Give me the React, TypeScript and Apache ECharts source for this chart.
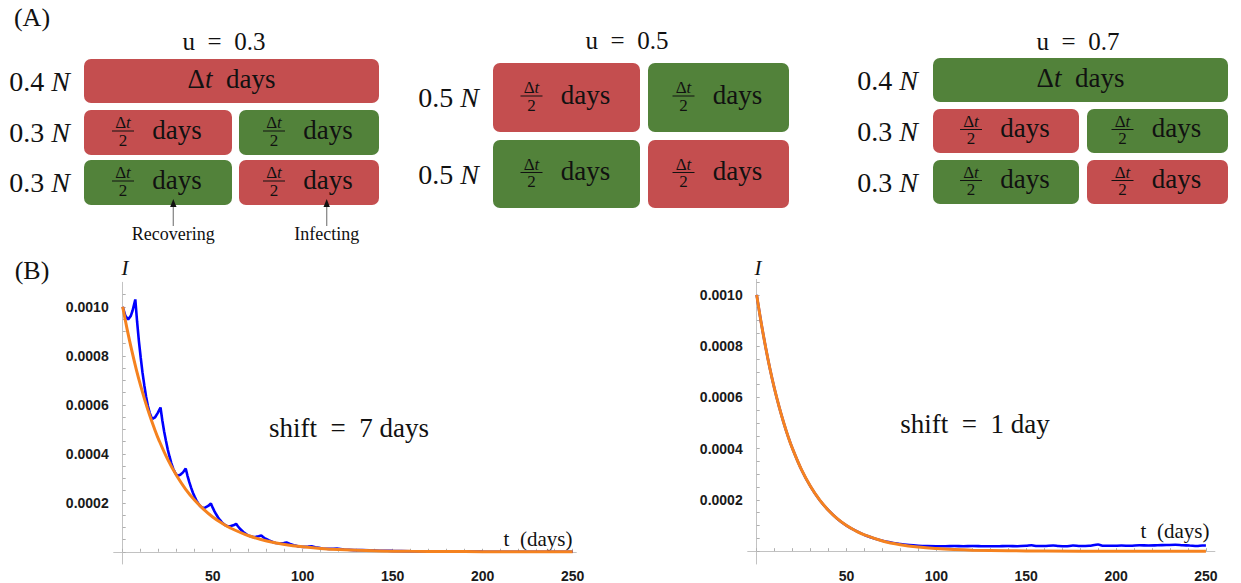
import React, { useEffect, useRef } from 'react';
import * as echarts from 'echarts';

// ---------- Panel A content ----------
const panelTitles = ['u = 0.3', 'u = 0.5', 'u = 0.7'];
const rowShares = [['0.4', '0.3', '0.3'], ['0.5', '0.5'], ['0.4', '0.3', '0.3']];
// I = infecting (red), R = recovering (green)
const cellStates = [
  [['I'], ['I', 'R'], ['R', 'I']],
  [['I', 'R'], ['R', 'I']],
  [['R'], ['I', 'R'], ['R', 'I']],
];
const arrowNotes = ['Recovering', 'Infecting'];

// ---------- Panel B content ----------
const shiftLabels = ['shift = 7 days', 'shift = 1 day'];
const xTickLabels = [50, 100, 150, 200, 250];
const yTickLabels = [0.0002, 0.0004, 0.0006, 0.0008, 0.001];

// shift = 7 days : simulated (blue)
const blueShift7: number[][] = [
  [0, 0.001], [1.5, 0.000963], [3, 0.000948], [4.5, 0.000963], [5.5, 0.000985], [7, 0.00103],
  [8, 0.000939], [9, 0.00086], [10, 0.000793], [11, 0.000731], [12, 0.00068], [13, 0.000633], [14, 0.000595],
  [15, 0.000567], [16, 0.000548], [16.5, 0.000543], [18, 0.000549], [19.5, 0.000567], [21, 0.000589],
  [22, 0.000537], [23, 0.000492], [24, 0.000454], [25, 0.000418], [26, 0.000389], [27, 0.000362], [28, 0.00034],
  [29, 0.000324], [30, 0.000313], [30.5, 0.00031], [32, 0.000314], [33.5, 0.000324], [35, 0.00034],
  [36, 0.00031], [37, 0.000284], [38, 0.000262], [39, 0.000241], [40, 0.000224], [41, 0.000209], [42, 0.000197],
  [43, 0.000187], [44, 0.000181], [44.5, 0.000179], [46, 0.000181], [47.5, 0.000187], [49, 0.000197],
  [50, 0.00018], [51, 0.000165], [52, 0.000152], [53, 0.00014], [54, 0.00013], [55, 0.000121], [56, 0.000114],
  [57, 0.000108], [58, 0.000105], [58.5, 0.000104], [60, 0.000105], [61.5, 0.000108], [63, 0.000114],
  [64, 0.000104], [65, 0.000095], [66, 0.000088], [67, 0.000081], [68, 0.000075], [69, 0.00007], [70, 0.000066],
  [71, 0.000063], [72, 0.000061], [72.5, 0.00006], [74, 0.000061], [75.5, 0.000063], [77, 0.000066],
  [78, 0.00006], [79, 0.000055], [80, 0.000051], [81, 0.000047], [82, 0.000044], [83, 0.000041], [84, 0.000038],
  [85, 0.000036], [86.5, 0.000035], [88, 0.000035], [89.5, 0.000036], [91, 0.000038],
  [93, 0.000032], [95, 0.000027], [97, 0.000023], [99, 0.000021], [100.5, 0.00002], [103, 0.000021], [105, 0.000022],
  [107, 0.000018], [109, 0.000016], [111, 0.000013], [113, 0.000012], [114.5, 0.0000116], [117, 0.000012], [119, 0.0000128],
  [123, 0.0000095], [128.5, 0.0000067], [133, 0.0000074], [137, 0.0000055], [142.5, 0.0000039], [147, 0.0000043],
  [150, 0.0000035], [160, 0.000002], [175, 0.000001], [200, 0.0000004], [225, 0.0000002], [250, 0.0000001],
];

// shift = 7 days : mean-field (orange)
const orangeShift7: number[][] = [
  [0, 0.001], [2.5, 0.000907], [5, 0.000823], [7.5, 0.000746], [10, 0.000677], [12.5, 0.000614], [15, 0.000557],
  [17.5, 0.000505], [20, 0.000458], [25, 0.000377], [30, 0.00031], [35, 0.000255], [40, 0.00021], [45, 0.000173],
  [50, 0.000142], [55, 0.000117], [60, 0.0000963], [70, 0.0000652], [80, 0.0000442], [90, 0.0000299],
  [100, 0.0000202], [110, 0.0000137], [120, 0.0000093], [140, 0.0000043], [160, 0.000002], [180, 0.0000009],
  [200, 0.0000004], [225, 0.0000002], [250, 0.0000001],
];

// shift = 1 day : simulated (blue)
const blueShift1: number[][] = [
  [0, 0.001], [2.5, 0.000891], [5, 0.000795], [7.5, 0.000708], [10, 0.000631], [12.5, 0.000563], [15, 0.000502],
  [17.5, 0.000447], [20, 0.000399], [25, 0.000317], [30, 0.000252], [35, 0.0002], [40, 0.000159], [45, 0.000126],
  [50, 0.0001], [55, 0.00008], [60, 0.0000635], [70, 0.0000405], [80, 0.0000275], [85, 0.0000235], [90, 0.0000212],
  [95, 0.00002], [100, 0.0000195], [105, 0.0000195], [110, 0.00002], [115, 0.0000195], [120, 0.00002],
  [125, 0.0000195], [130, 0.000019], [135, 0.0000195], [140, 0.00002], [145, 0.0000195], [150, 0.000021],
  [153, 0.000023], [156, 0.00002], [160, 0.00002], [165, 0.000022], [168, 0.00002], [172, 0.000019], [176, 0.000022],
  [180, 0.00002], [185, 0.000021], [190, 0.000026], [193, 0.000021], [198, 0.000021], [203, 0.000022],
  [208, 0.000021], [213, 0.000023], [218, 0.000022], [223, 0.000023], [228, 0.000024], [233, 0.000025],
  [237, 0.000023], [241, 0.000022], [245, 0.00002], [248, 0.000022], [250, 0.000022],
];

// shift = 1 day : mean-field (orange)
const orangeShift1: number[][] = [
  [0, 0.001], [2.5, 0.000891], [5, 0.000795], [7.5, 0.000708], [10, 0.000631], [12.5, 0.000563], [15, 0.000502],
  [17.5, 0.000447], [20, 0.000399], [25, 0.000317], [30, 0.000252], [35, 0.0002], [40, 0.000159], [45, 0.000126],
  [50, 0.0001], [55, 0.0000797], [60, 0.0000633], [70, 0.00004], [80, 0.0000252], [90, 0.0000159],
  [100, 0.0000101], [110, 0.0000064], [120, 0.000004], [140, 0.0000016], [160, 0.0000006], [200, 0.0000001],
  [250, 0],
];

// ---------- styling / layout ----------
const SERIF = "'Liberation Serif', serif";
const SANS = "'Liberation Sans', sans-serif";
const RED = '#c44e4f';
const GREEN = '#52823a';
const INK = '#111111';
const BLUE = '#0000ff';
const ORANGE = '#f5821f';

const PANEL_LAYOUT = [
  { titleX: 224, titleY: 41, labelX: 39.5, left: 84, split1: 232, split2: 239, right: 379, rows: [[59, 103], [110, 155], [160, 205]] },
  { titleX: 627, titleY: 40, labelX: 448.5, left: 493, split1: 640, split2: 648, right: 789, rows: [[63, 132], [140, 208]] },
  { titleX: 1078, titleY: 41, labelX: 887.5, left: 933, split1: 1079, split2: 1087, right: 1228, rows: [[58, 102], [109, 153], [160, 204]] },
];

function fontStr(size: number, italic = false) {
  return `${italic ? 'italic ' : ''}${size}px ${SERIF}`;
}

function tx(x: number, y: number, text: string, size: number) {
  return {
    type: 'text',
    x,
    y,
    silent: true,
    style: {
      text,
      font: fontStr(size),
      fill: INK,
      align: 'center',
      verticalAlign: 'middle',
      textAlign: 'center',
      textVerticalAlign: 'middle',
      rich: {
        g: { font: fontStr(size), fill: INK },
        i: { font: fontStr(size, true), fill: INK },
      },
    },
  };
}

function cellElements(x0: number, x1: number, y0: number, y1: number, state: string, full: boolean) {
  const els: any[] = [];
  els.push({
    type: 'rect',
    silent: true,
    shape: { x: x0, y: y0, width: x1 - x0, height: y1 - y0, r: 7 },
    style: { fill: state === 'I' ? RED : GREEN },
  });
  const cx = (x0 + x1) / 2;
  const cy = (y0 + y1) / 2;
  if (full) {
    els.push(tx(cx, cy - 2, '{g|Δ}{i|t}{g|  days}', 27));
  } else {
    const fx = cx - 35;
    const by = cy - 1.5;
    els.push({ type: 'line', silent: true, shape: { x1: fx - 11, y1: by, x2: fx + 11, y2: by }, style: { stroke: INK, lineWidth: 1 } });
    els.push(tx(fx, by - 8.5, '{g|Δ}{i|t}', 17));
    els.push(tx(fx, by + 9, '{g|2}', 17));
    els.push(tx(cx + 19, cy - 3, '{g|days}', 27));
  }
  return els;
}

function buildGraphics() {
  const els: any[] = [];
  els.push(tx(32, 17, '(A)', 26));
  els.push(tx(32, 270, '(B)', 26));
  panelTitles.forEach((title, p) => {
    const L = PANEL_LAYOUT[p];
    els.push(tx(L.titleX, L.titleY, title.replace(/ /g, '  '), 25));
    rowShares[p].forEach((share, r) => {
      const [y0, y1] = L.rows[r];
      els.push(tx(L.labelX, (y0 + y1) / 2, `{g|${share} }{i|N}`, 28));
      const states = cellStates[p][r];
      if (states.length === 1) {
        els.push(...cellElements(L.left, L.right, y0, y1, states[0], true));
      } else {
        els.push(...cellElements(L.left, L.split1, y0, y1, states[0], false));
        els.push(...cellElements(L.split2, L.right, y0, y1, states[1], false));
      }
    });
  });
  // annotations under the u = 0.3 panel
  const arrowX = [173.3, 326.7];
  arrowNotes.forEach((note, k) => {
    const x = arrowX[k];
    els.push({ type: 'line', silent: true, shape: { x1: x, y1: 205, x2: x, y2: 226 }, style: { stroke: '#8a8a8a', lineWidth: 1.3 } });
    els.push({ type: 'polygon', silent: true, shape: { points: [[x - 3.2, 207], [x + 3.2, 207], [x, 199]] }, style: { fill: INK } });
    els.push(tx(x, 234, note, 18));
  });
  // panel B texts
  els.push(tx(125, 268, '{i|I}', 21));
  els.push(tx(758, 268, '{i|I}', 21));
  els.push(tx(538, 539, 't  (days)', 21));
  els.push(tx(1175, 531, 't  (days)', 21));
  els.push(tx(349, 428, shiftLabels[0].replace(' = ', '  =  '), 27));
  els.push(tx(975, 424, shiftLabels[1].replace(' = ', '  =  '), 27));
  return els;
}

const xMinorTicks = Array.from({ length: 26 }, (_, i) => i * 10);
const yMinorTicks = Array.from({ length: 22 }, (_, i) => +(i * 0.00005).toFixed(5));

function xAxisFor(gridIndex: number, max: number) {
  return {
    type: 'value',
    gridIndex,
    min: -5,
    max,
    axisLine: { show: true, onZero: true, lineStyle: { color: '#c2c2c2', width: 1 } },
    axisTick: { show: true, inside: true, length: 3, customValues: xMinorTicks, lineStyle: { color: '#b0b0b0' } },
    axisLabel: {
      customValues: xTickLabels,
      margin: 5,
      fontFamily: SANS,
      fontWeight: 'bold',
      fontSize: 14,
      color: '#1a1a1a',
    },
    splitLine: { show: false },
  };
}

function yAxisFor(gridIndex: number, max: number) {
  return {
    type: 'value',
    gridIndex,
    min: -0.00005,
    max,
    axisLine: { show: true, onZero: true, lineStyle: { color: '#c2c2c2', width: 1 } },
    axisTick: { show: true, inside: true, length: 3, customValues: yMinorTicks, lineStyle: { color: '#b0b0b0' } },
    axisLabel: {
      customValues: yTickLabels,
      margin: 5,
      fontFamily: SANS,
      fontWeight: 'bold',
      fontSize: 14,
      color: '#1a1a1a',
      formatter: (v: number) => v.toFixed(4),
    },
    splitLine: { show: false },
  };
}

function lineSeries(data: number[][], idx: number, color: string, width: number, smooth: number | boolean) {
  return {
    type: 'line',
    xAxisIndex: idx,
    yAxisIndex: idx,
    data,
    showSymbol: false,
    symbol: 'none',
    smooth,
    lineStyle: { color, width },
    silent: true,
  };
}

export default function App() {
  const ref = useRef<HTMLDivElement>(null);
  useEffect(() => {
    document.body.style.margin = '0';
    const chart = echarts.init(ref.current as HTMLDivElement, null, { renderer: 'svg' });
    chart.setOption({
      animation: false,
      backgroundColor: '#ffffff',
      grid: [
        { left: 113.7, top: 282.3, width: 462.6, height: 285.7 },
        { left: 747.7, top: 279.5, width: 467.2, height: 286.1 },
      ],
      xAxis: [xAxisFor(0, 252), xAxisFor(1, 255)],
      yAxis: [yAxisFor(0, 0.0011), yAxisFor(1, 0.00106)],
      series: [
        lineSeries(blueShift7, 0, BLUE, 2.6, false),
        lineSeries(orangeShift7, 0, ORANGE, 3, 0.4),
        lineSeries(blueShift1, 1, BLUE, 2.6, 0.3),
        lineSeries(orangeShift1, 1, ORANGE, 3, 0.4),
      ],
      graphic: buildGraphics(),
    });
    return () => chart.dispose();
  }, []);
  return <div ref={ref} style={{ width: 1241, height: 583 }} />;
}
